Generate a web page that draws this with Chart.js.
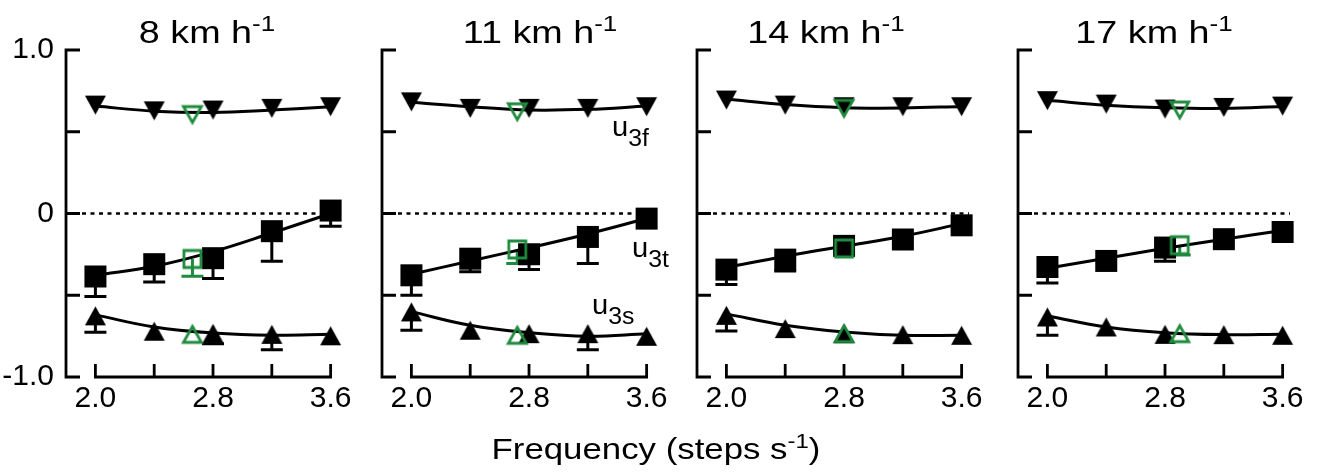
<!DOCTYPE html>
<html lang="en">
<head>
<meta charset="UTF-8">
<title>u3 vs step frequency</title>
<script src="https://cdn.jsdelivr.net/npm/chart.js@4.4.1/dist/chart.umd.min.js"></script>
<style>
  body { margin: 0; background: #fff; }
  #fig { position: relative; width: 1320px; height: 473px; overflow: hidden;
         font-family: "Liberation Sans", Arial, sans-serif; color: #000; }
  #fig canvas { position: absolute; top: 0; }
  .title { position: absolute; top: 16px; font-size: 32px; line-height: 1; white-space: nowrap;
           transform: translateX(-50%) scaleX(1.18); }
  .title sup { font-size: 22px; line-height: 0; vertical-align: 12px; }
  .xlabel { position: absolute; left: 656px; top: 435px; font-size: 29px; line-height: 1; white-space: nowrap;
            transform: translateX(-50%) scaleX(1.2); }
  .xlabel sup { font-size: 20px; line-height: 0; vertical-align: 11px; }
  .series { position: absolute; font-size: 27px; line-height: 1; white-space: nowrap;
            transform: scaleX(1.08); transform-origin: left top; }
  .series sub { font-size: 23px; line-height: 0; vertical-align: -10px; }
</style>
</head>
<body>
<div id="fig">
  <canvas id="c0" width="356" height="473" style="left:0px"></canvas>
  <canvas id="c1" width="356" height="473" style="left:316px"></canvas>
  <canvas id="c2" width="356" height="473" style="left:631px"></canvas>
  <canvas id="c3" width="356" height="473" style="left:952px"></canvas>

  <div class="title" style="left:207px">8 km h<sup>-1</sup></div>
  <div class="title" style="left:540px">11 km h<sup>-1</sup></div>
  <div class="title" style="left:826px">14 km h<sup>-1</sup></div>
  <div class="title" style="left:1154px">17 km h<sup>-1</sup></div>

  <div class="series" style="left:612px; top:114px">u<sub>3f</sub></div>
  <div class="series" style="left:632px; top:235px">u<sub>3t</sub></div>
  <div class="series" style="left:592px; top:292px">u<sub>3s</sub></div>

  <div class="xlabel">Frequency (steps s<sup>-1</sup>)</div>
</div>

<script>
// step frequencies tested and axis ticks
const freqs = [2.0, 2.4, 2.8, 3.2, 3.6];
const xTickLabels = ['2.0', '', '2.8', '', '3.6'];
const yTicks = [-1, -0.5, 0, 0.5, 1];
const yTickLabels = ['-1.0', '', '0', '', '1.0'];

// one row per speed: 8, 11, 14, 17 km/h
const u3f = [
  [0.663, 0.628, 0.633, 0.643, 0.653],
  [0.683, 0.643, 0.643, 0.643, 0.653],
  [0.694, 0.663, 0.653, 0.653, 0.653],
  [0.690, 0.669, 0.639, 0.649, 0.657]
];
const u3t = [
  [-0.385, -0.310, -0.273, -0.108, 0.018],
  [-0.378, -0.276, -0.249, -0.143, -0.031],
  [-0.343, -0.282, -0.198, -0.159, -0.072],
  [-0.327, -0.290, -0.208, -0.157, -0.113]
];
const u3tErr = [
  [0.122, 0.109, 0.125, 0.184, 0.096],
  [0.122, 0.081, 0.094, 0.163, 0],
  [0.092, 0.069, 0, 0, 0],
  [0.098, 0, 0.084, 0, 0]
];
const u3s = [
  [-0.626, -0.720, -0.733, -0.739, -0.748],
  [-0.602, -0.714, -0.735, -0.735, -0.751],
  [-0.623, -0.704, -0.735, -0.741, -0.745],
  [-0.633, -0.694, -0.739, -0.741, -0.745]
];
const u3sErr = [
  [0.100, 0, 0.063, 0.094, 0],
  [0.112, 0, 0, 0.098, 0],
  [0.095, 0, 0, 0, 0],
  [0.112, 0, 0, 0, 0]
];

// fitted curves at the tested frequencies
const u3fFit = [
  [0.657, 0.626, 0.618, 0.633, 0.653],
  [0.680, 0.653, 0.633, 0.637, 0.657],
  [0.700, 0.666, 0.647, 0.645, 0.655],
  [0.692, 0.662, 0.647, 0.643, 0.655]
];
const u3tFit = [
  [-0.378, -0.323, -0.233, -0.119, 0.000],
  [-0.372, -0.290, -0.210, -0.125, -0.031],
  [-0.330, -0.261, -0.200, -0.139, -0.062],
  [-0.335, -0.274, -0.213, -0.157, -0.104]
];
const u3sFit = [
  [-0.620, -0.694, -0.731, -0.745, -0.739],
  [-0.600, -0.684, -0.729, -0.751, -0.735],
  [-0.614, -0.684, -0.725, -0.745, -0.745],
  [-0.627, -0.694, -0.729, -0.741, -0.739]
];

// preferred frequency (open green markers)
const prefFreq = [2.66, 2.72, 2.80, 2.90];
const prefU3f = [0.605, 0.622, 0.643, 0.633];
const prefU3t = [-0.278, -0.220, -0.214, -0.194];
const prefU3tErr = [0.106, 0.086, 0, 0.06];
const prefU3s = [-0.739, -0.745, -0.735, -0.735];

const FONT = '"Liberation Sans", Arial, sans-serif';
const GREEN = '#1f8b3e';

// little bitmaps for the Prism-style markers, centred on their bounding box
function marker(shape, w, h, color, filled) {
  const m = 4;
  const c = document.createElement('canvas');
  c.width = w + 2 * m; c.height = h + 2 * m;
  const g = c.getContext('2d');
  g.beginPath();
  if (shape === 'square') {
    g.rect(m, m, w, h);
  } else if (shape === 'up') {
    g.moveTo(m + w / 2, m); g.lineTo(m + w, m + h); g.lineTo(m, m + h); g.closePath();
  } else {
    g.moveTo(m, m); g.lineTo(m + w, m); g.lineTo(m + w / 2, m + h); g.closePath();
  }
  if (filled) {
    g.fillStyle = color; g.fill();
  } else {
    g.strokeStyle = color; g.lineWidth = 2.8; g.stroke();
  }
  return c;
}
const img = {
  square: marker('square', 22, 22, '#000', true),
  up: marker('up', 21, 19, '#000', true),
  down: marker('down', 21, 19, '#000', true),
  gSquare: marker('square', 17, 17, GREEN, false),
  gUp: marker('up', 18, 16, GREEN, false),
  gDown: marker('down', 18, 16, GREEN, false)
};

// axes drawn like the original: separated x axis, inward ticks, dotted zero line
const prismAxes = {
  id: 'prismAxes',
  beforeDatasetsDraw(chart) {
    const { ctx, scales: { x, y } } = chart;
    const left = x.getPixelForValue(x.min);
    const top = y.getPixelForValue(1);
    const bottom = y.getPixelForValue(-1);
    ctx.save();
    ctx.strokeStyle = '#000';
    ctx.lineWidth = 2.8;
    ctx.lineCap = 'butt';
    ctx.lineJoin = 'miter';

    ctx.beginPath();
    ctx.moveTo(left + 14, top);
    ctx.lineTo(left, top);
    ctx.lineTo(left, bottom);
    ctx.lineTo(left + 14, bottom);
    yTicks.slice(1, -1).forEach(v => {
      const py = y.getPixelForValue(v);
      ctx.moveTo(left, py);
      ctx.lineTo(left + 14, py);
    });
    ctx.stroke();

    const x0 = x.getPixelForValue(freqs[0]);
    const x1 = x.getPixelForValue(freqs[freqs.length - 1]);
    ctx.beginPath();
    ctx.moveTo(x0, bottom - 13);
    ctx.lineTo(x0, bottom);
    ctx.lineTo(x1, bottom);
    ctx.lineTo(x1, bottom - 13);
    freqs.slice(1, -1).forEach(f => {
      const px = x.getPixelForValue(f);
      ctx.moveTo(px, bottom);
      ctx.lineTo(px, bottom - 13);
    });
    ctx.stroke();

    const zero = y.getPixelForValue(0);
    ctx.setLineDash([4, 4.5]);
    ctx.lineWidth = 2.4;
    ctx.beginPath();
    ctx.moveTo(left + 16, zero);
    ctx.lineTo(x.getPixelForValue(3.65), zero);
    ctx.stroke();
    ctx.restore();
  }
};

// one-sided (downward) error bars
const errorBars = {
  id: 'errorBars',
  beforeDatasetsDraw(chart) {
    const { ctx, scales: { x, y } } = chart;
    ctx.save();
    ctx.lineWidth = 3;
    chart.data.datasets.forEach(ds => {
      if (!ds.errors) return;
      ctx.strokeStyle = ds.errColor || '#000';
      ds.data.forEach((p, j) => {
        const e = ds.errors[j];
        if (!e) return;
        const px = x.getPixelForValue(p.x);
        const py = y.getPixelForValue(p.y);
        const pe = y.getPixelForValue(p.y - e);
        ctx.beginPath();
        ctx.moveTo(px, py);
        ctx.lineTo(px, pe);
        ctx.moveTo(px - 11, pe);
        ctx.lineTo(px + 11, pe);
        ctx.stroke();
      });
    });
    ctx.restore();
  }
};

function points(ys) {
  return freqs.map((f, j) => ({ x: f, y: ys[j] }));
}

function markerSet(data, style, extra) {
  return Object.assign({ data: data, pointStyle: style, pointRadius: 10, showLine: false, clip: false }, extra || {});
}

function fitSet(ys) {
  return {
    data: points(ys), showLine: true, pointRadius: 0, borderColor: '#000',
    borderWidth: 3, tension: 0.4, fill: false, clip: false
  };
}

function makePanel(i) {
  const p = { x: prefFreq[i] };
  new Chart(document.getElementById('c' + i), {
    type: 'scatter',
    data: {
      datasets: [
        markerSet([{ x: p.x, y: prefU3f[i] }], img.gDown),
        markerSet([{ x: p.x, y: prefU3t[i] }], img.gSquare, { errors: [prefU3tErr[i]], errColor: GREEN }),
        markerSet([{ x: p.x, y: prefU3s[i] }], img.gUp),
        markerSet(points(u3f[i]), img.down),
        markerSet(points(u3t[i]), img.square, { errors: u3tErr[i] }),
        markerSet(points(u3s[i]), img.up, { errors: u3sErr[i] }),
        fitSet(u3fFit[i]),
        fitSet(u3tFit[i]),
        fitSet(u3sFit[i])
      ]
    },
    options: {
      responsive: false,
      animation: false,
      events: [],
      layout: { padding: { top: 50, left: 0, right: 0, bottom: 0 } },
      plugins: { legend: { display: false }, tooltip: { enabled: false } },
      scales: {
        x: {
          type: 'linear', min: 1.8, max: 3.69,
          grid: { display: false, drawTicks: false },
          border: { display: false },
          afterBuildTicks: s => { s.ticks = freqs.map(v => ({ value: v })); },
          afterFit: s => { s.height = 96; },
          ticks: {
            autoSkip: false, maxRotation: 0, minRotation: 0, padding: 4,
            color: '#000', font: { family: FONT, size: 30 },
            callback: (v, idx) => xTickLabels[idx]
          }
        },
        y: {
          type: 'linear', min: -1, max: 1,
          grid: { display: false, drawTicks: false },
          border: { display: false },
          afterBuildTicks: s => { s.ticks = yTicks.map(v => ({ value: v })); },
          afterFit: s => { s.width = 66; },
          ticks: {
            display: i === 0, autoSkip: false, padding: 12,
            color: '#000', font: { family: FONT, size: 30 },
            callback: (v, idx) => yTickLabels[idx]
          }
        }
      }
    },
    plugins: [prismAxes, errorBars]
  });
}

[0, 1, 2, 3].forEach(makePanel);
</script>
</body>
</html>
